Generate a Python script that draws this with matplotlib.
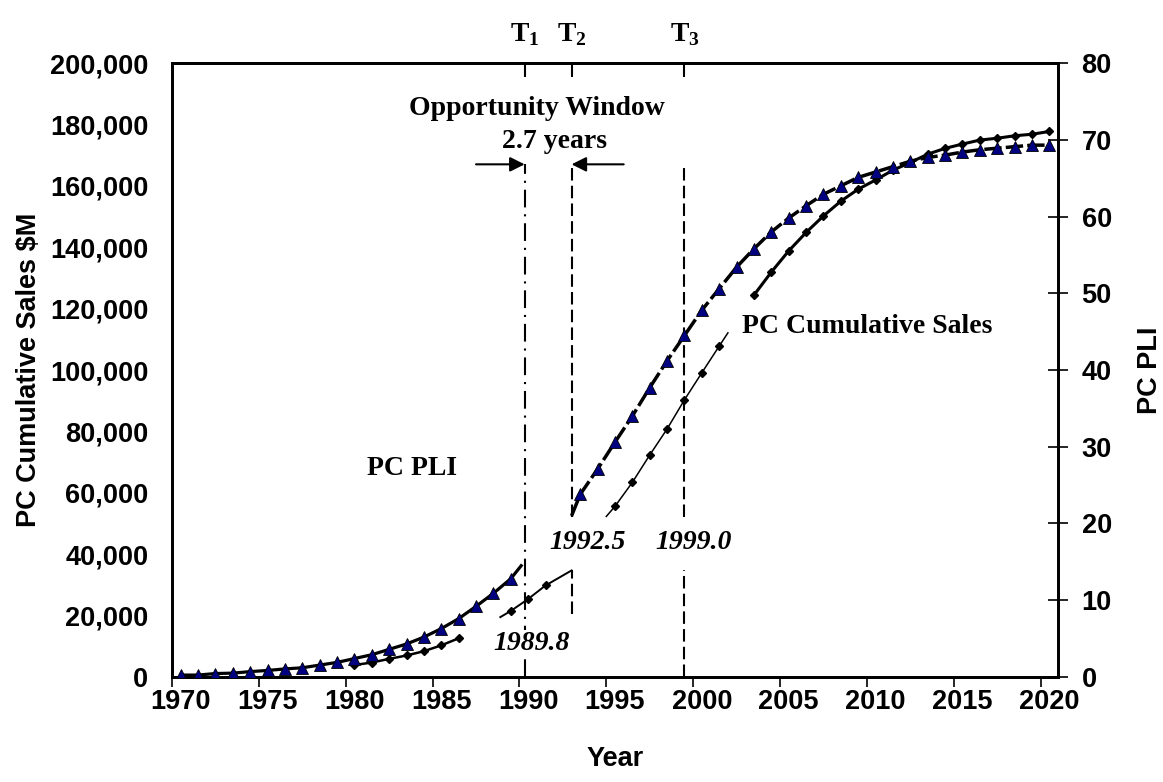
import numpy as np
import matplotlib.pyplot as plt
from matplotlib.ticker import FuncFormatter, FixedLocator

plt.rcParams['mathtext.fontset'] = 'custom'
plt.rcParams['mathtext.bf'] = 'Liberation Serif:bold'
plt.rcParams['mathtext.rm'] = 'Liberation Serif:bold'

SANS = 'Liberation Sans'
SERIF = 'Liberation Serif'

# PC PLI, historical annual values
pli_hist_years = list(range(1970, 1990))
pli_hist = [0.25, 0.25, 0.45, 0.5, 0.7, 0.85, 1.05, 1.2, 1.55, 1.9,
            2.4, 2.9, 3.6, 4.3, 5.2, 6.3, 7.6, 9.2, 10.9, 12.8]
pli_hist_end = (1989.6, 14.5)

# PC PLI, projected
pli_proj_start = (1992.5, 21.0)
pli_proj_years = list(range(1993, 2021))
pli_proj = [23.8, 27.1, 30.6, 34.0, 37.7, 41.2, 44.5, 47.8, 50.6, 53.4,
            55.8, 58.0, 59.8, 61.4, 62.9, 64.0, 65.1, 65.8, 66.5, 67.2,
            67.7, 68.0, 68.4, 68.7, 68.9, 69.1, 69.3, 69.3]

# PC cumulative sales ($M), four fitted pieces
sales1_years = list(range(1980, 1987))
sales1 = [3900, 4700, 5900, 7000, 8400, 10300, 12600]

sales2_start = (1988.4, 19500)
sales2_years = [1989, 1990, 1991]
sales2 = [21500, 25400, 29800]
sales2_end = (1992.5, 34700)

sales3_start = (1994.5, 52300)
sales3_years = list(range(1995, 2002))
sales3 = [55600, 63400, 72300, 80800, 90300, 99100, 107800]
sales3_end = (2001.5, 112100)

sales4_years = list(range(2003, 2021))
sales4 = [124400, 131900, 138800, 144800, 150200, 155000, 158900, 161900,
          165100, 167600, 170300, 172200, 173600, 174900, 175500, 176300,
          176800, 177700]

# window milestones
t_names = ['T$_1$', 'T$_2$', 'T$_3$']
t_years = [1989.8, 1992.5, 1999.0]
t_labels = ['1989.8', '1992.5', '1999.0']
window_years = 2.7

fig = plt.figure(figsize=(11.63, 7.82), dpi=100)
ax = fig.add_axes([0.1479, 0.1343, 0.7618, 0.7851])
ax2 = ax.twinx()

tri = dict(marker='^', markersize=8, markerfacecolor='#000080',
           markeredgecolor='black', markeredgewidth=0.6, linestyle='none')
dia = dict(marker='D', markersize=4, color='black', linestyle='none')

# PLI on the right axis
x = pli_hist_years + [pli_hist_end[0]]
y = pli_hist + [pli_hist_end[1]]
ax2.plot(x, y, color='black', lw=2.3, zorder=3)
ax2.plot(pli_hist_years, pli_hist, zorder=4, **tri)

x = [pli_proj_start[0]] + pli_proj_years
y = [pli_proj_start[1]] + pli_proj
ax2.plot(x, y, color='black', lw=2.5, dashes=(5, 1.2), zorder=3)
ax2.plot(pli_proj_years, pli_proj, zorder=4, **tri)

# cumulative sales on the left axis
ax.plot(sales1_years, sales1, color='black', lw=1.8)
ax.plot(sales1_years, sales1, **dia)

x = [sales2_start[0]] + sales2_years + [sales2_end[0]]
y = [sales2_start[1]] + sales2 + [sales2_end[1]]
ax.plot(x, y, color='black', lw=1.4)
ax.plot(sales2_years, sales2, **dia)

x = [sales3_start[0]] + sales3_years + [sales3_end[0]]
y = [sales3_start[1]] + sales3 + [sales3_end[1]]
ax.plot(x, y, color='black', lw=1.1)
ax.plot(sales3_years, sales3, **dia)

ax.plot(sales4_years, sales4, color='black', lw=2.2)
ax.plot(sales4_years, sales4, **dia)

# milestone lines
top = 167000
ax.plot([t_years[0]] * 2, [0, top], color='black', lw=1.5,
        dashes=(8.5, 3.3, 1, 3.3), zorder=2)
for t in t_years[1:]:
    ax.plot([t, t], [52000, top], color='black', lw=1.5, dashes=(6, 2.5))
ax.plot([t_years[1]] * 2, [20500, 34700], color='black', lw=1.5, dashes=(6, 2.5))
ax.plot([t_years[2]] * 2, [0, 34700], color='black', lw=1.5, dashes=(6, 2.5))

lab = dict(family=SERIF, fontweight='bold', fontstyle='italic', fontsize=20,
           ha='center', va='center', zorder=6)
ax.text(t_years[0] + 0.4, 10800, t_labels[0],
        bbox=dict(facecolor='white', edgecolor='none', pad=1), **lab)
ax.text(t_years[1] + 0.9, 43700, t_labels[1], **lab)
ax.text(t_years[2] + 0.5, 43700, t_labels[2], **lab)

# opportunity window
ann = dict(family=SERIF, fontweight='bold', fontsize=20, ha='center', va='center')
ax.text(1990.5, 185300, 'Opportunity Window', **ann)
ax.text(1991.5, 174600, f'{window_years} years', **ann)
arrow = dict(arrowstyle='-|>', color='black', lw=1.5, mutation_scale=22,
             shrinkA=0, shrinkB=0)
ax.annotate('', xy=(t_years[0], top), xytext=(t_years[0] - 2.8, top), arrowprops=arrow)
ax.annotate('', xy=(t_years[1], top), xytext=(t_years[1] + 3.0, top), arrowprops=arrow)

ax.text(1983.3, 67900, 'PC PLI', **ann)
ax.text(2009.5, 114200, 'PC Cumulative Sales', **ann)

# axes
ax.set_xlim(1969.5, 2020.5)
ax.set_ylim(0, 200000)
ax2.set_ylim(0, 80)
ax.set_xticks(range(1970, 2021, 5))
ax.xaxis.set_minor_locator(FixedLocator(np.arange(1969.5, 2020, 5)))
ax.tick_params(axis='x', which='major', length=0, pad=9)
ax.tick_params(axis='x', which='minor', length=7, width=1.2, direction='out')
ax.set_yticks(range(0, 200001, 20000))
ax.yaxis.set_major_formatter(FuncFormatter(lambda v, p: f'{int(v):,}'))
ax.tick_params(axis='y', length=0, pad=17)
ax2.set_yticks(range(0, 81, 10))
ax2.tick_params(axis='y', direction='inout', length=14, width=1.2, pad=10)

for a in (ax, ax2):
    for s in a.spines.values():
        s.set_linewidth(2)
    for t in a.get_xticklabels() + a.get_yticklabels():
        t.set_family(SANS)
        t.set_fontweight('bold')
        t.set_fontsize(19.5)

ax.set_xlabel('Year', family=SANS, fontweight='bold', fontsize=19.5, labelpad=22)
ax.set_ylabel('PC Cumulative Sales $M', family=SANS, fontweight='bold',
              fontsize=19.5, labelpad=6)
ax2.set_ylabel('PC PLI', family=SANS, fontweight='bold', fontsize=19.5, labelpad=18)

# milestone ticks along the top
sec = ax.secondary_xaxis('top')
sec.set_xticks(t_years)
sec.set_xticklabels(t_names, family=SERIF, fontweight='bold', fontsize=20)
sec.tick_params(direction='in', length=10, width=1.5, pad=11)

fig.savefig('out.png', dpi=100)
